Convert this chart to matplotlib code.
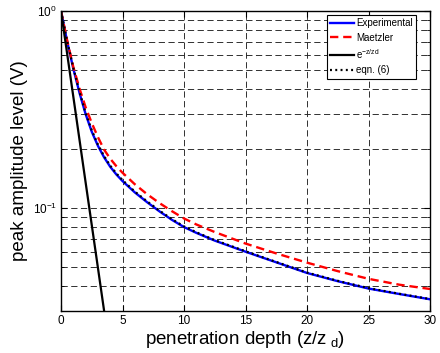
import matplotlib
matplotlib.use("Agg")
import matplotlib.pyplot as plt
from matplotlib.ticker import LogLocator

plt.rcParams['font.family'] = ['Liberation Sans', 'DejaVu Sans']
plt.rcParams['mathtext.fontset'] = 'custom'
plt.rcParams['mathtext.rm'] = 'Liberation Sans'
plt.rcParams['mathtext.it'] = 'Liberation Sans:italic'
plt.rcParams['lines.scale_dashes'] = False

# Data
z_exp = [0, 0.5, 1, 1.5, 2, 2.5, 3, 3.5, 4, 4.5, 5, 6, 7, 8, 9, 10, 11, 12.5,
         15, 17.5, 20, 22.5, 25, 27.5, 30]
v_exp = [1.0, 0.70, 0.51, 0.385, 0.30, 0.244, 0.207, 0.181, 0.162, 0.148, 0.137,
         0.120, 0.107, 0.0962, 0.0872, 0.080, 0.0748, 0.0683, 0.060, 0.0530, 0.0468,
         0.0425, 0.039, 0.0366, 0.0344]

z_mae = [0, 0.5, 1, 1.5, 2, 2.5, 3, 3.5, 4, 4.5, 5, 6, 7, 8, 9, 10, 11, 12.5,
         15, 17.5, 20, 22.5, 25, 27.5, 30]
v_mae = [1.0, 0.71, 0.52, 0.405, 0.325, 0.27, 0.229, 0.198, 0.178, 0.163, 0.151,
         0.132, 0.1175, 0.106, 0.0965, 0.0885, 0.0825, 0.0755, 0.0660, 0.0588, 0.0528,
         0.0478, 0.0437, 0.0408, 0.0388]

z_exp_decay = [0, 1, 2, 3, 4]
v_exp_decay = [1.0, 0.368, 0.135, 0.0498, 0.0183]

z_eqn6 = [0, 0.5, 1, 1.5, 2, 2.5, 3, 3.5, 4, 4.5, 5, 6, 7, 8, 9, 10, 11, 12.5,
          15, 17.5, 20, 22.5, 25, 27.5, 30]
v_eqn6 = [1.0, 0.705, 0.515, 0.39, 0.304, 0.248, 0.21, 0.1835, 0.164, 0.1498, 0.1385,
          0.1212, 0.108, 0.0970, 0.0879, 0.0806, 0.0753, 0.0687, 0.0603, 0.0532, 0.0470,
          0.0427, 0.0392, 0.0367, 0.0345]

labels = ['Experimental', 'Maetzler', r'e$^{\mathregular{-z/zd}}$', 'eqn. (6)']
xticks = [0, 5, 10, 15, 20, 25, 30]

fig = plt.figure(figsize=(4.4, 3.53), dpi=100)
ax = fig.add_axes([61/440, 42/353, 369/440, 300/353])

ax.plot(z_exp, v_exp, color='#0000ff', lw=1.7, label=labels[0])
ax.plot(z_mae, v_mae, color='#ff0000', lw=1.7, dashes=(6, 3.5), label=labels[1])
ax.plot(z_exp_decay, v_exp_decay, color='black', lw=1.6, label=labels[2])
ax.plot(z_eqn6, v_eqn6, color='black', lw=1.6, linestyle=(0, (1.4, 2.4)),
        dash_capstyle='butt', label=labels[3])

ax.set_yscale('log')
ax.set_xlim(0, 30)
ax.set_ylim(0.03, 1)
ax.set_xticks(xticks)
ax.set_xticklabels([str(t) for t in xticks])
ax.yaxis.set_major_locator(LogLocator(base=10))
ax.yaxis.set_minor_locator(LogLocator(base=10, subs=range(2, 10)))

ax.grid(True, which='both', color='#222222', linestyle=(0, (4.5, 2.5)), lw=0.65)
ax.tick_params(which='both', direction='in', top=True, right=True, labelsize=8.5, pad=3)
ax.tick_params(which='major', length=4, width=0.8)
ax.tick_params(which='minor', length=2.5, width=0.6)
ax.tick_params(axis='y', which='minor', labelleft=False)
for s in ax.spines.values():
    s.set_linewidth(1.0)

ax.set_xlabel('penetration depth (z/z$_{\\mathregular{\\ d}}$)', fontsize=13.5, labelpad=1)
ax.set_ylabel('peak amplitude level (V)', fontsize=13.5, labelpad=3)

leg = ax.legend(loc='upper right', bbox_to_anchor=(0.962, 0.987), fontsize=7,
                frameon=True, fancybox=False, edgecolor='black', framealpha=1,
                handlelength=2.4, borderpad=0.35, labelspacing=0.45, handletextpad=0.25,
                borderaxespad=0)
leg.get_frame().set_linewidth(0.8)

fig.savefig('out.png', dpi=100)
